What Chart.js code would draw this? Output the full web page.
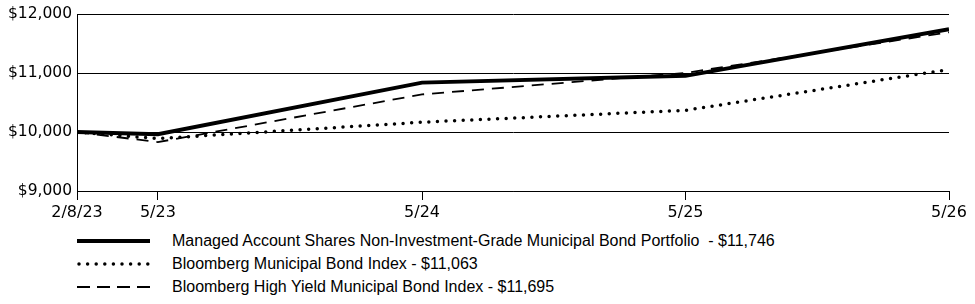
<!DOCTYPE html>
<html><head><meta charset="utf-8">
<script src="https://cdn.jsdelivr.net/npm/chart.js@4/dist/chart.umd.min.js"></script>
<style>
html,body{margin:0;padding:0;background:#fff;}
#wrap{position:relative;width:975px;height:304px;font-family:"Liberation Sans",Arial,sans-serif;}
#cw{position:absolute;left:0;top:0;width:975px;height:225px;}
.leg{position:absolute;left:77px;height:20px;font-size:16px;color:#000;white-space:pre;}
.leg svg{position:absolute;left:0;top:0;}
.leg span{position:absolute;left:95px;top:0;line-height:20px;}
</style></head>
<body>
<div id="wrap">
<div id="cw"><canvas id="c"></canvas></div>
<div class="leg" style="top:231px"><svg width="80" height="20"><line x1="0" y1="10" x2="73" y2="10" stroke="#000" stroke-width="4"/></svg><span id="l0"></span></div>
<div class="leg" style="top:254px"><svg width="80" height="20"><line x1="2" y1="10" x2="73" y2="10" stroke="#000" stroke-width="3.5" stroke-linecap="round" stroke-dasharray="0 8.6"/></svg><span id="l1"></span></div>
<div class="leg" style="top:277px"><svg width="80" height="20"><line x1="0" y1="10" x2="73" y2="10" stroke="#000" stroke-width="2" stroke-dasharray="13 7"/></svg><span id="l2"></span></div>
</div>
<script>
// days since 2/8/23
const dayOffsets = [0, 112, 478, 843, 1208];
const tickLabels = ["2/8/23", "5/23", "5/24", "5/25", "5/26"];
const managed = [10000, 9965, 10840, 10955, 11746];
const muniIndex = [10000, 9890, 10168, 10370, 11063];
const hyIndex = [10000, 9830, 10640, 11005, 11695];
const seriesNames = [
  "Managed Account Shares Non-Investment-Grade Municipal Bond Portfolio  - $11,746",
  "Bloomberg Municipal Bond Index - $11,063",
  "Bloomberg High Yield Municipal Bond Index - $11,695"
];
const yTicks = [9000, 10000, 11000, 12000];

document.getElementById('l0').textContent = seriesNames[0];
document.getElementById('l1').textContent = seriesNames[1];
document.getElementById('l2').textContent = seriesNames[2];

const pts = arr => arr.map((v, i) => ({x: dayOffsets[i], y: v}));

new Chart(document.getElementById('c'), {
  type: 'line',
  data: {
    datasets: [
      {label: seriesNames[0], data: pts(managed), borderColor: '#000', borderWidth: 4, pointRadius: 0, tension: 0},
      {label: seriesNames[1], data: pts(muniIndex), borderColor: '#000', borderWidth: 3.5, borderDash: [0, 8.6], borderCapStyle: 'round', pointRadius: 0, tension: 0},
      {label: seriesNames[2], data: pts(hyIndex), borderColor: '#000', borderWidth: 1.8, borderDash: [12, 8], pointRadius: 0, tension: 0}
    ]
  },
  options: {
    responsive: true, maintainAspectRatio: false, animation: false,
    layout: {padding: {top: 13, right: 26, left: 0, bottom: 0}},
    plugins: {legend: {display: false}, tooltip: {enabled: false}},
    scales: {
      x: {
        type: 'linear', min: dayOffsets[0], max: dayOffsets[dayOffsets.length - 1],
        afterBuildTicks: s => { s.ticks = dayOffsets.map(v => ({value: v})); },
        afterFit: s => { s.height = 34; },
        ticks: {color: '#000', font: {family: '"DejaVu Sans", sans-serif', size: 16}, padding: 3, maxRotation: 0, autoSkip: false,
          callback: (v, i) => tickLabels[i]},
        grid: {drawOnChartArea: false, drawTicks: true, tickLength: 9, color: '#000', lineWidth: 1},
        border: {display: true, color: '#000', width: 1}
      },
      y: {
        min: 9000, max: 12000,
        afterBuildTicks: s => { s.ticks = yTicks.map(v => ({value: v})); },
        afterFit: s => { s.width = 77; },
        ticks: {color: '#000', font: {family: '"DejaVu Sans", sans-serif', size: 15.5}, padding: 5,
          callback: v => '$' + v.toLocaleString('en-US')},
        grid: {drawTicks: false, color: '#000', lineWidth: 1},
        border: {display: true, color: '#000', width: 1}
      }
    }
  }
});
</script>
</body></html>
